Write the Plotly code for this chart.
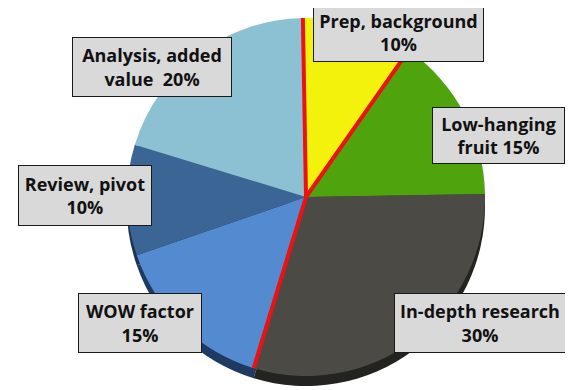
import math
import plotly.graph_objects as go

# ---- data ----
categories = ["Prep, background", "Low-hanging fruit", "In-depth research",
              "WOW factor", "Review, pivot", "Analysis, added value"]
values = [10, 15, 30, 15, 10, 20]
label_templates = ["Prep, background<br>{v}%", "Low-hanging<br>fruit {v}%",
                   "In-depth research<br>{v}%", "WOW factor<br>{v}%",
                   "Review, pivot<br>{v}%", "Analysis, added<br>value  {v}%"]
# slices whose leading/trailing edges are highlighted in red
red_edge_after = [0, 1, 3]   # number of slices before each red boundary

# ---- style ----
PAGE_OFF = 8                  # default body margin of the html page
W, H = 573 - PAGE_OFF, 390 - PAGE_OFF
face_colors = ["#f3f20c", "#4fa30c", "#4b4a45", "#548bd0", "#3b6595", "#8cc1d4"]
side_colors = ["#8a8a05", "#2b5a06", "#23231f", "#1f3a62", "#1c3350", "#4a7585"]
rotation = -1
cx_px, cy_px, r_px = 306, 197, 179
depth_px = 10
box_pos = [  # (x_center, y_center, width, height) in window px
    (398.5, 32.5, 171, 59),
    (498.5, 135.5, 133, 57),
    (480, 323, 172, 60),
    (140, 323, 124, 60),
    (85, 195.5, 134, 61),
    (152, 67, 160, 60),
]


def px(x):
    return (x - PAGE_OFF) / W


def py(y):
    return 1 - (y - PAGE_OFF) / H


def dom(cy):
    return dict(x=[px(cx_px - r_px), px(cx_px + r_px)],
                y=[py(cy + r_px), py(cy - r_px)])


fig = go.Figure()
common = dict(labels=categories, values=values, sort=False, direction="clockwise",
              rotation=rotation, textinfo="none", hoverinfo="skip", showlegend=False)
fig.add_trace(go.Pie(**common, domain=dom(cy_px + depth_px),
                     marker=dict(colors=side_colors, line=dict(width=0))))
fig.add_trace(go.Pie(**common, domain=dom(cy_px),
                     marker=dict(colors=face_colors, line=dict(width=0))))

total = sum(values)
shapes = []
for n in red_edge_after:
    ang = math.radians(rotation + 360 * sum(values[:n]) / total)
    x1 = cx_px + r_px * math.sin(ang)
    y1 = cy_px - r_px * math.cos(ang)
    shapes.append(dict(type="line", xref="paper", yref="paper",
                       x0=px(cx_px), y0=py(cy_px), x1=px(x1), y1=py(y1),
                       line=dict(color="#ee1111", width=4), layer="above"))

annotations = []
for tmpl, v, (bx, by, bw, bh) in zip(label_templates, values, box_pos):
    annotations.append(dict(
        text=tmpl.format(v=v), xref="paper", yref="paper",
        x=px(bx), y=py(by), xanchor="center", yanchor="middle",
        showarrow=False, align="center", width=bw - 2, height=bh - 2,
        bgcolor="#d9d9d9", bordercolor="#1a1a1a", borderwidth=1, borderpad=0,
        font=dict(family="Open Sans", size=18, color="#111111", weight=700)))

fig.update_layout(width=W, height=H, margin=dict(l=0, r=0, t=0, b=0),
                  paper_bgcolor="white", plot_bgcolor="white",
                  shapes=shapes, annotations=annotations)
fig.write_html("out.html")
